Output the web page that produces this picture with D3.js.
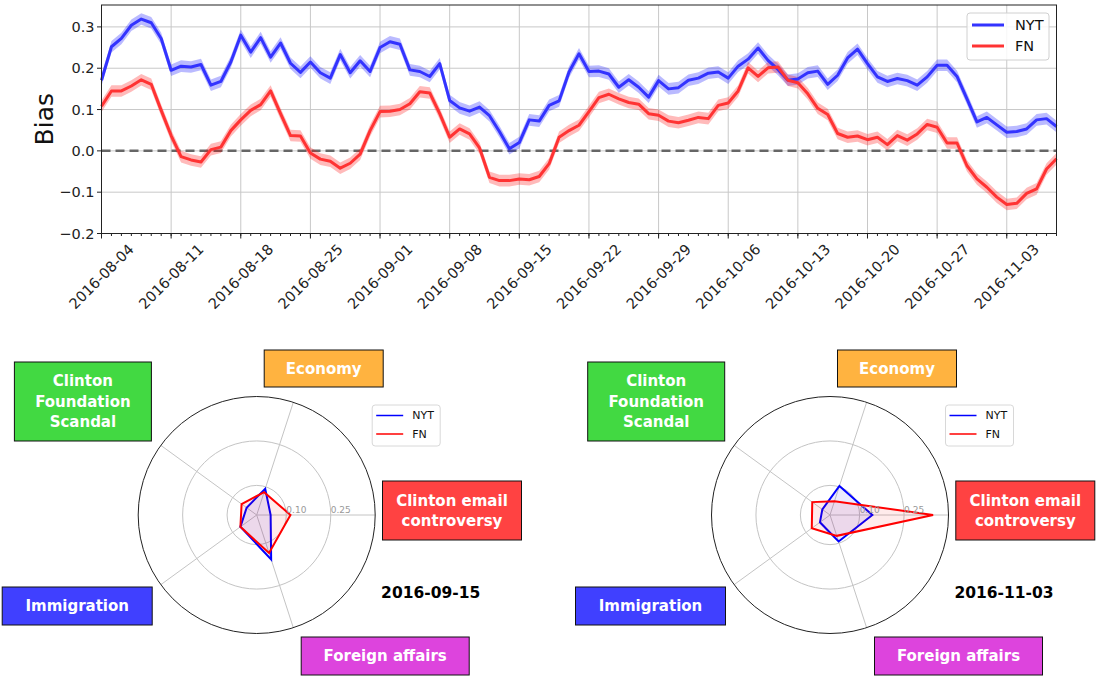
<!DOCTYPE html>
<html><head><meta charset="utf-8">
<script src="https://cdnjs.cloudflare.com/ajax/libs/d3/7.8.5/d3.min.js"></script>
<style>body{margin:0;background:#fff;} svg text{font-family:"DejaVu Sans",sans-serif;}</style>
</head><body><svg id="c" width="1114" height="677"></svg>
<script>
// ---------- DATA ----------
const startDate = "2016-08-04";
const endDate = "2016-11-08";
const nytBias = [0.171,0.252,0.272,0.304,0.319,0.31,0.272,0.195,0.205,0.203,
  0.209,0.159,0.168,0.215,0.28,0.239,0.274,0.227,0.261,0.212,
  0.19,0.215,0.189,0.176,0.233,0.189,0.218,0.192,0.25,0.264,
  0.258,0.196,0.192,0.18,0.211,0.122,0.104,0.096,0.106,0.085,
  0.047,0.005,0.02,0.075,0.072,0.11,0.121,0.191,0.235,0.192,
  0.193,0.186,0.154,0.172,0.154,0.13,0.17,0.15,0.153,0.171,
  0.176,0.188,0.191,0.176,0.205,0.222,0.249,0.219,0.197,0.171,
  0.174,0.189,0.193,0.161,0.183,0.225,0.246,0.211,0.179,0.168,
  0.175,0.17,0.159,0.179,0.207,0.207,0.18,0.126,0.07,0.081,
  0.063,0.045,0.047,0.053,0.075,0.078,0.059];
const fnBias = [0.108,0.145,0.145,0.157,0.172,0.161,0.098,0.037,-0.014,-0.022,
  -0.027,0.003,0.009,0.049,0.075,0.098,0.112,0.145,0.09,0.037,
  0.036,-0.005,-0.02,-0.025,-0.042,-0.03,-0.008,0.049,0.095,0.096,
  0.1,0.114,0.143,0.14,0.09,0.033,0.053,0.041,0.007,-0.064,
  -0.072,-0.072,-0.068,-0.07,-0.062,-0.031,0.033,0.049,0.062,0.095,
  0.129,0.137,0.126,0.117,0.113,0.09,0.086,0.072,0.068,0.074,
  0.081,0.078,0.11,0.116,0.145,0.201,0.18,0.201,0.203,0.171,
  0.165,0.138,0.103,0.088,0.042,0.033,0.036,0.027,0.033,0.015,
  0.037,0.026,0.041,0.064,0.057,0.019,0.019,-0.036,-0.068,-0.088,
  -0.112,-0.13,-0.127,-0.103,-0.092,-0.044,-0.019];
const bandHalfWidth = 0.014;
const yTickValues = [-0.2,-0.1,0.0,0.1,0.2,0.3];
const xTickLabels = ["2016-08-04","2016-08-11","2016-08-18","2016-08-25","2016-09-01","2016-09-08",
  "2016-09-15","2016-09-22","2016-09-29","2016-10-06","2016-10-13","2016-10-20","2016-10-27","2016-11-03"];
const seriesNames = ["NYT","FN"];

const radarCategories = ["Clinton email\ncontroversy","Economy","Clinton\nFoundation\nScandal","Immigration","Foreign affairs"];
const radarDates = ["2016-09-15","2016-11-03"];
const radarNYT = [[0.047,0.093,0.042,0.068,0.158],[0.143,0.103,0.032,0.042,0.094]];
const radarFN  = [[0.114,0.081,0.063,0.068,0.135],[0.348,0.049,0.074,0.076,0.074]];
const radarRings = [0.10,0.25];
const radarMax = 0.4;

// ---------- TOP CHART ----------
const svg = d3.select("#c");
const parse = d3.timeParse("%Y-%m-%d");
const fmtMinus = v => d3.format(".1f")(v).replace("-", "\u2212");
const dates = d3.range(nytBias.length).map(i => d3.timeDay.offset(parse(startDate), i));
const L = 101.5, R = 1056.5, T = 5, B = 233.5;
const x = d3.scaleTime().domain([parse(startDate), parse(endDate)]).range([L, R]);
const y = d3.scaleLinear().domain([-0.2, 0.353]).range([B, T]);
const topG = svg.append("g");

// grid
topG.append("g").selectAll("line").data(yTickValues).join("line")
  .attr("x1", L).attr("x2", R).attr("y1", d => y(d)).attr("y2", d => y(d))
  .attr("stroke", "#c8c8c8").attr("stroke-width", 1);
const xTickDates = xTickLabels.map(parse);
topG.append("g").selectAll("line").data(xTickDates).join("line")
  .attr("x1", d => x(d)).attr("x2", d => x(d)).attr("y1", T).attr("y2", B)
  .attr("stroke", "#c8c8c8").attr("stroke-width", 1);

// zero line
topG.append("line").attr("x1", L).attr("x2", R).attr("y1", y(0)).attr("y2", y(0))
  .attr("stroke", "#666").attr("stroke-width", 2.5).attr("stroke-dasharray", "9,5");

const seriesData = [nytBias, fnBias];
const lineColors = ["#3333ff", "#ff3333"];
const bandColors = ["rgba(0,0,255,0.27)", "rgba(255,0,0,0.27)"];
const area = d3.area().x((d, i) => x(dates[i])).y0(d => y(d - bandHalfWidth)).y1(d => y(d + bandHalfWidth));
const line = d3.line().x((d, i) => x(dates[i])).y(d => y(d));
seriesData.forEach((s, k) => {
  topG.append("path").datum(s).attr("d", area).attr("fill", bandColors[k]);
});
seriesData.forEach((s, k) => {
  topG.append("path").datum(s).attr("d", line).attr("fill", "none")
    .attr("stroke", lineColors[k]).attr("stroke-width", 3).attr("stroke-linejoin", "round");
});

// frame
topG.append("rect").attr("x", L).attr("y", T).attr("width", R - L).attr("height", B - T)
  .attr("fill", "none").attr("stroke", "#222").attr("stroke-width", 1);

// y ticks
const yg = topG.append("g");
yTickValues.forEach(v => {
  yg.append("line").attr("x1", L - 4.5).attr("x2", L).attr("y1", y(v)).attr("y2", y(v)).attr("stroke", "#222");
  yg.append("text").attr("x", L - 7).attr("y", y(v)).attr("dy", "0.35em").attr("text-anchor", "end")
    .attr("font-size", 14.5).attr("fill", "#222").text(fmtMinus(v));
});
topG.append("text").attr("transform", `translate(53,${(T + B) / 2}) rotate(-90)`)
  .attr("text-anchor", "middle").attr("font-size", 25).attr("fill", "#111").text("Bias");

// x ticks (minor daily)
const minor = d3.timeDay.range(parse(startDate), d3.timeDay.offset(parse(endDate), 1));
topG.append("g").selectAll("line").data(minor).join("line")
  .attr("x1", d => x(d)).attr("x2", d => x(d)).attr("y1", B).attr("y2", B + 2.5).attr("stroke", "#222");
xTickDates.forEach((d, i) => {
  topG.append("line").attr("x1", x(d)).attr("x2", x(d)).attr("y1", B).attr("y2", B + 5).attr("stroke", "#222");
  topG.append("text").attr("transform", `translate(${x(d)},${B + 43}) rotate(-45)`)
    .attr("text-anchor", "middle").attr("dy", "0.35em").attr("font-size", 14.5).attr("fill", "#222")
    .text(xTickLabels[i]);
});

// legend
const lg = topG.append("g");
lg.append("rect").attr("x", 967).attr("y", 13).attr("width", 82).attr("height", 47).attr("rx", 3)
  .attr("fill", "rgba(255,255,255,0.85)").attr("stroke", "#d0d0d0");
seriesNames.forEach((n, k) => {
  const yy = 25 + k * 21;
  lg.append("line").attr("x1", 972).attr("x2", 1004).attr("y1", yy).attr("y2", yy)
    .attr("stroke", lineColors[k]).attr("stroke-width", 3);
  lg.append("text").attr("x", 1015).attr("y", yy).attr("dy", "0.35em").attr("font-size", 14.5)
    .attr("fill", "#111").text(n);
});

// ---------- RADARS ----------
const rScale = d3.scaleLinear().domain([0, radarMax]).range([0, 118.5]);
const angles = radarCategories.map((c, k) => k * 2 * Math.PI / radarCategories.length);
const radarCenters = [256.7, 830];
const cy = 515;
const boxColors = ["#ff4242", "#ffb340", "#42d942", "#4040ff", "#dd44dd"];
// box layout relative to radar centre: [dx left, top, width, height]
const boxLayout = [[125.8, 481, 139, 59], [7.5, 350, 119, 37], [-242.3, 362, 137, 79], [-254.5, 587, 150, 38], [44.5, 637, 168, 38]];
const radarColors = ["#0000ff", "#ff0000"];
const radarFill = ["rgba(0,0,255,0.08)", "rgba(255,0,0,0.08)"];

radarCenters.forEach((cx, ri) => {
  const g = svg.append("g");
  radarRings.forEach(v => {
    g.append("circle").attr("cx", cx).attr("cy", cy).attr("r", rScale(v))
      .attr("fill", "none").attr("stroke", "#c4c4c4").attr("stroke-width", 1);
  });
  angles.forEach(a => {
    g.append("line").attr("x1", cx).attr("y1", cy)
      .attr("x2", cx + rScale(radarMax) * Math.cos(a)).attr("y2", cy - rScale(radarMax) * Math.sin(a))
      .attr("stroke", "#c4c4c4").attr("stroke-width", 1);
  });
  g.append("circle").attr("cx", cx).attr("cy", cy).attr("r", rScale(radarMax))
    .attr("fill", "none").attr("stroke", "#222").attr("stroke-width", 1);
  [radarNYT[ri], radarFN[ri]].forEach((vals, k) => {
    const pts = vals.map((v, j) => [cx + rScale(v) * Math.cos(angles[j]), cy - rScale(v) * Math.sin(angles[j])]);
    g.append("polygon").attr("points", pts.map(p => p.join(",")).join(" "))
      .attr("fill", radarFill[k]).attr("stroke", radarColors[k]).attr("stroke-width", 2)
      .attr("stroke-linejoin", "miter");
  });
  radarRings.forEach(v => {
    g.append("text").attr("x", cx + rScale(v)).attr("y", cy - 2).attr("font-size", 9)
      .attr("fill", "#999").text(v.toFixed(2));
  });
  // legend
  const lx = cx + 115.5;
  g.append("rect").attr("x", lx).attr("y", 405).attr("width", 68).attr("height", 41).attr("rx", 3)
    .attr("fill", "#fff").attr("stroke", "#d8d8d8");
  seriesNames.forEach((n, k) => {
    const yy = 415.5 + k * 18.5;
    g.append("line").attr("x1", lx + 4).attr("x2", lx + 31).attr("y1", yy).attr("y2", yy)
      .attr("stroke", radarColors[k]).attr("stroke-width", 1.5);
    g.append("text").attr("x", lx + 40).attr("y", yy).attr("dy", "0.35em").attr("font-size", 11)
      .attr("fill", "#111").text(n);
  });
  // category boxes
  radarCategories.forEach((c, j) => {
    const [dx, ty, w, h] = boxLayout[j];
    const bx = cx + dx;
    g.append("rect").attr("x", bx).attr("y", ty).attr("width", w).attr("height", h)
      .attr("fill", boxColors[j]).attr("stroke", "#111").attr("stroke-width", 1);
    const lines = c.split("\n");
    lines.forEach((ln, m) => {
      g.append("text").attr("x", bx + w / 2).attr("y", ty + h / 2 + (m - (lines.length - 1) / 2) * 20.5)
        .attr("dy", "0.35em").attr("text-anchor", "middle").attr("font-size", 15)
        .attr("font-weight", "bold").attr("fill", "#fff").text(ln);
    });
  });
  g.append("text").attr("x", cx + 174).attr("y", 593).attr("dy", "0.35em").attr("text-anchor", "middle")
    .attr("font-size", 15.5).attr("font-weight", "bold").attr("fill", "#000").text(radarDates[ri]);
});
</script></body></html>
